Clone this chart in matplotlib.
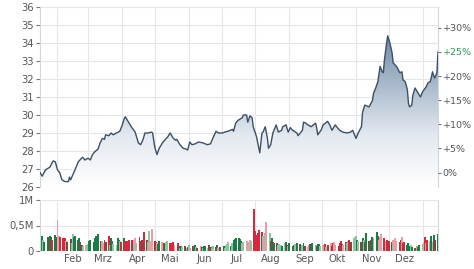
import matplotlib
matplotlib.use('Agg')
import matplotlib.pyplot as plt
import matplotlib.dates as mdates
import numpy as np
import pandas as pd
from matplotlib.ticker import FuncFormatter, FixedLocator
from matplotlib.colors import LinearSegmentedColormap

# -----------------------
# Kursdaten (Schlusskurse)
# -----------------------
price_dates = [
    '2023-01-16', '2023-01-18', '2023-01-21', '2023-01-25', '2023-01-28', '2023-01-30',
    '2023-02-01', '2023-02-03', '2023-02-05', '2023-02-08', '2023-02-11', '2023-02-12',
    '2023-02-13', '2023-02-17', '2023-02-20', '2023-02-23', '2023-02-24', '2023-02-26',
    '2023-03-01', '2023-03-03', '2023-03-05', '2023-03-07', '2023-03-10', '2023-03-12',
    '2023-03-14', '2023-03-16', '2023-03-17', '2023-03-20', '2023-03-22', '2023-03-24',
    '2023-03-27', '2023-03-30', '2023-04-01', '2023-04-03', '2023-04-04', '2023-04-07',
    '2023-04-10', '2023-04-13', '2023-04-16', '2023-04-18', '2023-04-20', '2023-04-22',
    '2023-04-25', '2023-04-28', '2023-04-29', '2023-05-01', '2023-05-03', '2023-05-05',
    '2023-05-08', '2023-05-10', '2023-05-13', '2023-05-15', '2023-05-18', '2023-05-20',
    '2023-05-21', '2023-05-24', '2023-05-27', '2023-05-30', '2023-05-31', '2023-06-02',
    '2023-06-04', '2023-06-07', '2023-06-10', '2023-06-14', '2023-06-16', '2023-06-18',
    '2023-06-21', '2023-06-23', '2023-06-26', '2023-06-28', '2023-07-02', '2023-07-04',
    '2023-07-07', '2023-07-11', '2023-07-12', '2023-07-14', '2023-07-16', '2023-07-20',
    '2023-07-21', '2023-07-24', '2023-07-25', '2023-07-27', '2023-07-29', '2023-07-30',
    '2023-08-02', '2023-08-03', '2023-08-05', '2023-08-07', '2023-08-08', '2023-08-10',
    '2023-08-12', '2023-08-13', '2023-08-15', '2023-08-17', '2023-08-20', '2023-08-22',
    '2023-08-25', '2023-08-26', '2023-08-29', '2023-08-31', '2023-09-02', '2023-09-04',
    '2023-09-08', '2023-09-09', '2023-09-13', '2023-09-14', '2023-09-16', '2023-09-18',
    '2023-09-21', '2023-09-23', '2023-09-25', '2023-09-26', '2023-09-27', '2023-09-30',
    '2023-10-02', '2023-10-06', '2023-10-08', '2023-10-10', '2023-10-13', '2023-10-15',
    '2023-10-17', '2023-10-20', '2023-10-24', '2023-10-27', '2023-10-29', '2023-11-01',
    '2023-11-03', '2023-11-06', '2023-11-07', '2023-11-09', '2023-11-11', '2023-11-13',
    '2023-11-16', '2023-11-17', '2023-11-19', '2023-11-21', '2023-11-23', '2023-11-25',
    '2023-11-26', '2023-11-27', '2023-11-29', '2023-11-30', '2023-12-02', '2023-12-04',
    '2023-12-05', '2023-12-08', '2023-12-09', '2023-12-11', '2023-12-13', '2023-12-14',
    '2023-12-16', '2023-12-18', '2023-12-19', '2023-12-20', '2023-12-22', '2023-12-23',
    '2023-12-25', '2023-12-27', '2023-12-30', '2024-01-01', '2024-01-04', '2024-01-06',
    '2024-01-08', '2024-01-10', '2024-01-11', '2024-01-12', '2024-01-14', '2024-01-15',
]
price_vals = [
    26.80, 26.60, 26.95, 27.10, 27.45, 27.40,
    26.95, 26.80, 26.40, 26.30, 26.30, 26.55,
    26.40, 26.95, 27.40, 27.60, 27.65, 27.50,
    27.60, 27.50, 27.80, 27.95, 28.10, 28.45,
    28.70, 28.65, 28.90, 28.85, 29.00, 28.90,
    29.00, 29.10, 29.40, 29.80, 29.90, 29.60,
    29.30, 29.05, 28.45, 28.35, 28.60, 29.00,
    29.00, 29.05, 29.00, 28.20, 27.80, 28.15,
    28.45, 28.60, 28.80, 29.00, 28.70, 28.60,
    28.65, 28.35, 28.15, 28.10, 28.05, 28.50,
    28.35, 28.40, 28.50, 28.45, 28.40, 28.35,
    28.40, 28.70, 29.10, 29.00, 29.00, 29.05,
    29.10, 29.20, 29.10, 29.55, 29.70, 29.85,
    30.00, 30.00, 29.60, 29.95, 29.85, 29.35,
    28.80, 28.50, 27.90, 29.00, 29.05, 29.35,
    28.70, 28.15, 28.35, 29.00, 29.45, 29.05,
    29.15, 29.35, 29.45, 29.05, 29.30, 29.15,
    29.00, 28.85, 29.15, 29.60, 29.55, 29.45,
    29.35, 29.45, 29.55, 29.30, 28.90, 29.15,
    29.45, 29.65, 29.45, 29.15, 29.45, 29.30,
    29.15, 29.05, 29.00, 29.05, 29.15, 28.70,
    29.00, 29.35, 30.15, 30.55, 30.50, 30.45,
    30.80, 31.20, 31.50, 31.85, 32.70, 32.40,
    32.35, 33.05, 34.00, 34.40, 34.00, 33.45,
    32.90, 32.70, 32.60, 32.35, 32.40, 31.95,
    31.85, 31.40, 30.65, 30.45, 30.55, 31.10,
    31.50, 31.30, 31.00, 31.30, 31.55, 31.80,
    31.85, 32.40, 32.20, 32.05, 32.35, 33.50,
]

# -----------------------
# Umsatz (Mio. Stueck) je Handelstag, Farbcode je Balken
# G = dunkelgruen, g = hellgruen, R = rot, r = rosa, B = braun
# -----------------------
vol_jan = [0.24, 0.29, 0.30, 0.22, 0.18, 0.27, 0.25, 0.30, 0.28, 0.22, 0.31, 0.28]
col_jan = "gGGgGGBGGRGG"
vol_feb = [0.60, 0.30, 0.27, 0.25, 0.22, 0.26, 0.20, 0.18, 0.24, 0.15, 0.34,
           0.28, 0.30, 0.22, 0.26, 0.18, 0.12, 0.10, 0.12, 0.10]
col_feb = "rrRRRRrBBggGGGGBBgrg"
vol_mar = [0.14, 0.20, 0.22, 0.18, 0.25, 0.30, 0.22, 0.33, 0.20, 0.20, 0.15, 0.22,
           0.18, 0.29, 0.12, 0.25, 0.20, 0.14, 0.12, 0.25, 0.22, 0.20, 0.18]
col_mar = "gGGGGGGGGrrRBRgGGggGGgR"
vol_apr = [0.25, 0.20, 0.20, 0.19, 0.22, 0.21, 0.18, 0.22, 0.25, 0.15,
           0.28, 0.20, 0.22, 0.18, 0.37, 0.22, 0.18, 0.40, 0.20, 0.44]
col_apr = "GRRRRRBrrgRRBBRBggrr"
vol_may = [0.20, 0.18, 0.15, 0.13, 0.20, 0.17, 0.15, 0.12, 0.18, 0.20, 0.15, 0.13,
           0.16, 0.17, 0.12, 0.15, 0.10, 0.06, 0.09, 0.07, 0.10, 0.05, 0.08]
col_may = "BRrGGrBGggRRRRrRBgGgBgG"
vol_jun = [0.11, 0.06, 0.09, 0.07, 0.12, 0.08, 0.06, 0.10, 0.07, 0.05, 0.09,
           0.10, 0.06, 0.12, 0.08, 0.05, 0.09, 0.07, 0.11, 0.06, 0.04, 0.08]
col_jun = "grBGGgBrBgGGgBGrgBGrgB"
vol_jul = [0.10, 0.06, 0.12, 0.14, 0.18, 0.10, 0.15, 0.22, 0.24, 0.26, 0.25,
           0.23, 0.20, 0.15, 0.18, 0.20, 0.15, 0.18, 0.22, 0.20, 0.82]
col_jul = "GggggGgGGGGGGrgrgrrgR"
vol_aug = [0.40, 0.32, 0.36, 0.42, 0.38, 0.30, 0.25, 0.35, 0.57, 0.35, 0.20, 0.25,
           0.18, 0.15, 0.16, 0.12, 0.14, 0.12, 0.10, 0.15, 0.18, 0.12, 0.10]
col_aug = "RRRRRgrgrgBGBGBgggGgGBg"
vol_sep = [0.15, 0.10, 0.12, 0.14, 0.08, 0.15, 0.13, 0.10, 0.12, 0.15, 0.10,
           0.08, 0.12, 0.14, 0.10, 0.15, 0.12, 0.09, 0.13, 0.14, 0.10]
col_sep = "GGBggGBGgGBrrBGGgBGGg"
vol_oct = [0.12, 0.10, 0.13, 0.08, 0.12, 0.15, 0.10, 0.16, 0.18, 0.12, 0.10,
           0.16, 0.20, 0.14, 0.12, 0.18, 0.15, 0.20, 0.22, 0.18, 0.25, 0.28]
col_oct = "rrRgRrBRrrBRRBrRggRBgg"
vol_nov = [0.30, 0.22, 0.20, 0.18, 0.25, 0.22, 0.18, 0.35, 0.20, 0.15, 0.22,
           0.28, 0.25, 0.38, 0.30, 0.22, 0.28, 0.33, 0.25, 0.20, 0.22, 0.18]
col_nov = "gGgBGgBGBGBGgGGrrrRrRB"
vol_dec = [0.20, 0.18, 0.22, 0.15, 0.25, 0.20, 0.18, 0.22, 0.28, 0.15, 0.18,
           0.12, 0.15, 0.10, 0.12, 0.08, 0.05, 0.06, 0.10, 0.08, 0.12]
col_dec = "RBrgrrBRrBRGGGgGRGgBG"
vol_jan2 = [0.14, 0.18, 0.28, 0.15, 0.22, 0.20, 0.30, 0.18, 0.32, 0.22, 0.33]
col_jan2 = "grRgRrGrGBG"

month_labels = ['Feb', 'Mrz', 'Apr', 'Mai', 'Jun', 'Jul', 'Aug', 'Sep', 'Okt', 'Nov', 'Dez']

volume = (vol_jan + vol_feb + vol_mar + vol_apr + vol_may + vol_jun + vol_jul
          + vol_aug + vol_sep + vol_oct + vol_nov + vol_dec + vol_jan2)
vol_codes = (col_jan + col_feb + col_mar + col_apr + col_may + col_jun + col_jul
             + col_aug + col_sep + col_oct + col_nov + col_dec + col_jan2)
assert len(volume) == len(vol_codes), (len(volume), len(vol_codes))

palette = {'G': '#1c7b47', 'g': '#8ec5a2', 'R': '#d8283c', 'r': '#ef9ba4', 'B': '#7b4a3e'}

dates = pd.to_datetime(price_dates)
vol_dates = pd.bdate_range('2023-01-16', periods=len(volume))
x_start = pd.Timestamp('2023-01-16')
x_end = pd.Timestamp('2024-01-15')

grid_c = '#e6e6e6'
spine_c = '#cfd8e2'
text_c = '#555555'
fs = 7.2

fig = plt.figure(figsize=(4.74, 2.69), dpi=100)
W, H = 474.0, 269.0
ax = fig.add_axes([40 / W, (H - 187) / H, 398 / W, 180 / H])
axv = fig.add_axes([40 / W, (H - 251) / H, 398 / W, 51 / H])

# -----------------------
# Kurslinie mit Verlauf
# -----------------------
ymin, ymax = 26, 36
ax.set_xlim(x_start, x_end)
ax.set_ylim(ymin, ymax)

grad = np.linspace(0, 1, 256).reshape(-1, 1)
cmap = LinearSegmentedColormap.from_list('fillgrad', ['#ffffff', '#e3e9f0', '#a9b9cb', '#6d87a4'])
img = ax.imshow(grad, aspect='auto', cmap=cmap, origin='lower',
                extent=[mdates.date2num(x_start), mdates.date2num(x_end), ymin, 34.6],
                zorder=1, interpolation='bilinear')
poly = ax.fill_between(dates, price_vals, ymin, color='none', lw=0)
img.set_clip_path(poly.get_paths()[0], transform=ax.transData)
ax.plot(dates, price_vals, color='#3b4f66', lw=1.0, zorder=3)
ax.set_xlim(x_start, x_end)
ax.set_ylim(ymin, ymax)

ax.set_yticks(range(26, 37))
ax.xaxis.set_major_locator(mdates.MonthLocator())
ax.tick_params(axis='x', which='both', length=0, labelbottom=False)
ax.tick_params(axis='y', length=3, width=0.8, color='#777777', labelcolor=text_c,
               labelsize=fs, pad=1.5)
ax.grid(True, color=grid_c, lw=0.8, zorder=0)
ax.set_axisbelow(True)
for s in ['top', 'bottom']:
    ax.spines[s].set_visible(False)
for s in ['left', 'right']:
    ax.spines[s].set_color(spine_c)
    ax.spines[s].set_linewidth(0.8)

# Prozentachse rechts (bezogen auf ersten Kurs)
base = price_vals[0]
axp = ax.twinx()
axp.set_ylim((ymin / base - 1) * 100, (ymax / base - 1) * 100)
pct_ticks = [0, 5, 10, 15, 20, 25, 30]
axp.set_yticks(pct_ticks)
axp.set_yticklabels(['0%'] + ['+%d%%' % t for t in pct_ticks[1:]])
axp.tick_params(axis='y', length=2.5, width=0.8, color='#777777', labelcolor=text_c,
                labelsize=6.8, pad=0.8)
for lbl in axp.get_yticklabels():
    if lbl.get_text() == '+25%':
        lbl.set_color('#2e9a58')
for s in axp.spines.values():
    s.set_visible(False)

# -----------------------
# Umsatzbalken
# -----------------------
axv.bar(vol_dates, volume, width=1.8, color=[palette[c] for c in vol_codes],
        lw=0, zorder=2)
axv.set_xlim(x_start, x_end)
axv.set_ylim(0, 1.0)
axv.set_yticks([0, 0.5, 1.0])
axv.yaxis.set_major_formatter(FuncFormatter(
    lambda v, p: '0' if v == 0 else ('1M' if v == 1 else ('%.1fM' % v).replace('.', ','))))
axv.xaxis.set_major_locator(mdates.MonthLocator())
axv.xaxis.set_major_formatter(plt.NullFormatter())
label_pos = [mdates.date2num(pd.Timestamp(2023, m, 15)) for m in range(2, 13)]
axv.set_xticks(label_pos, minor=True)
axv.set_xticklabels(month_labels, minor=True)
axv.tick_params(axis='x', which='both', length=0, labelsize=fs, labelcolor=text_c, pad=2)
axv.tick_params(axis='y', length=3, width=0.8, color='#777777', labelcolor=text_c,
                labelsize=fs, pad=1.5)
axv.grid(True, axis='both', which='major', color=grid_c, lw=0.8, zorder=0)
axv.set_axisbelow(True)
for s in ['top', 'bottom']:
    axv.spines[s].set_visible(False)
for s in ['left', 'right']:
    axv.spines[s].set_color(spine_c)
    axv.spines[s].set_linewidth(0.8)

fig.savefig('out.png', dpi=100)
